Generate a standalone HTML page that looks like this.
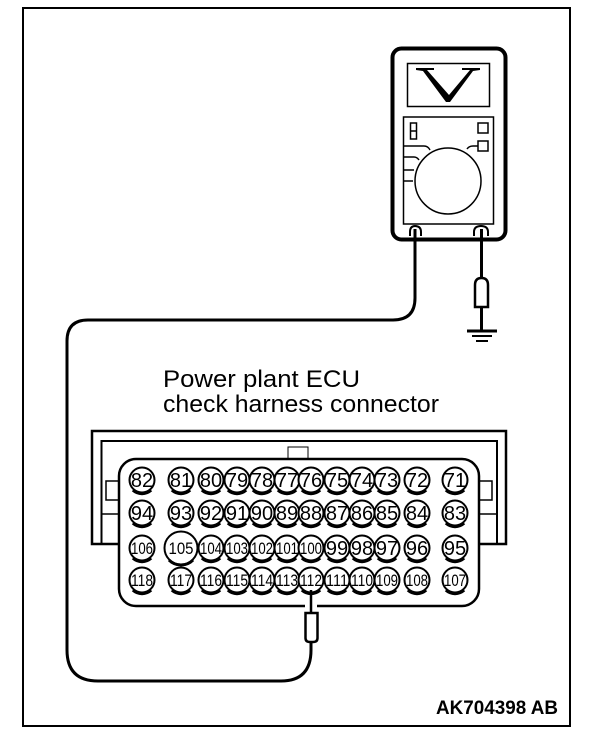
<!DOCTYPE html>
<html>
<head>
<meta charset="utf-8">
<style>
html,body{margin:0;padding:0;background:#fff}
svg{display:block}
text{font-family:"Liberation Sans",sans-serif;fill:#000}
.n{font-size:20px;text-anchor:middle}
.s{font-size:17px;text-anchor:middle}
.l{fill:none;stroke:#000}
</style>
</head>
<body>
<svg width="608" height="738" viewBox="0 0 608 738" xmlns="http://www.w3.org/2000/svg">
<defs>
<g id="p"><circle r="12.500" fill="#fff" stroke="#000" stroke-width="2"/><path d="M-9 10A13.500 13.500 0 0 0 9 10" class="l" stroke-width="3.500"/></g>
</defs>
<rect x="23" y="8" width="547" height="718" class="l" stroke-width="2"/>

<!-- meter -->
<rect x="392.500" y="48.500" width="113" height="191" rx="9" class="l" stroke-width="4"/>
<rect x="407.500" y="63.500" width="82" height="43" class="l" stroke-width="1.500"/>
<path d="M416 68H434L434 70L427 70L449 95L470 70L462 70V68H480V70L473 71L450 102H446L423 71L416 70Z" fill="#000"/>
<rect x="403.500" y="117" width="90" height="107" class="l" stroke-width="1.500"/>
<rect x="410.500" y="123" width="6" height="16" class="l" stroke-width="1.500"/>
<path d="M410 131H417" class="l" stroke-width="1.500"/>
<rect x="478" y="123" width="10" height="10" class="l" stroke-width="1.500"/>
<rect x="478" y="141" width="10" height="10" class="l" stroke-width="1.500"/>
<circle cx="448" cy="181" r="33" class="l" stroke-width="1.500"/>
<path d="M404 146H424Q428 146 430 150M404 157H414Q417 157 419 160M404 170H414M404 181H413M478 146H473Q469 146 467 149" class="l" stroke-width="1.500"/>
<path d="M410 236V232Q410 226 415 226Q421 226 421 232V236M474 236V232Q474 226 481 226Q488 226 488 232V236" class="l" stroke-width="2"/>

<!-- left wire -->
<path d="M415 229V298Q415 320 393 320H88Q67 320 67 341V650Q67 681 98 681H281Q311 681 311 650V640" class="l" stroke-width="3"/>

<!-- right wire and ground -->
<path d="M481.500 229V278M481.500 307V332" class="l" stroke-width="3"/>
<path d="M475 307V285Q475 278 481.500 278Q488 278 488 285V307Z" class="l" stroke-width="2.500"/>
<path d="M467 331H497" class="l" stroke-width="3"/>
<path d="M472 336H492M476 341H488" class="l" stroke-width="2"/>

<text x="163" y="387" font-size="24" textLength="197" lengthAdjust="spacingAndGlyphs">Power plant ECU</text>
<text x="163" y="412" font-size="24" textLength="276" lengthAdjust="spacingAndGlyphs">check harness connector</text>

<!-- connector housing -->
<path d="M118 544H92V431H506V544H479" class="l" stroke-width="2.500"/>
<path d="M101.500 544V441H497V544" class="l" stroke-width="2"/>
<rect x="288" y="447" width="20" height="12" class="l" stroke-width="1"/>
<path d="M118 481H106V500H118M101 514H118M479 481H492V500H479M479 514H497" class="l" stroke-width="1.500"/>
<rect x="119" y="459" width="360" height="147" rx="17" fill="#fff" stroke="#000" stroke-width="2.500"/>

<!-- row 1 -->
<use href="#p" x="142" y="480"/><use href="#p" x="181" y="480"/><use href="#p" x="211" y="480"/><use href="#p" x="237" y="480"/><use href="#p" x="262" y="480"/><use href="#p" x="287" y="480"/><use href="#p" x="311" y="480"/><use href="#p" x="337" y="480"/><use href="#p" x="362" y="480"/><use href="#p" x="387" y="480"/><use href="#p" x="417" y="480"/><use href="#p" x="455" y="480"/>
<text class="n" x="142" y="487">82</text><text class="n" x="181" y="487">81</text><text class="n" x="211" y="487">80</text><text class="n" x="237" y="487">79</text><text class="n" x="262" y="487">78</text><text class="n" x="287" y="487">77</text><text class="n" x="311" y="487">76</text><text class="n" x="337" y="487">75</text><text class="n" x="362" y="487">74</text><text class="n" x="387" y="487">73</text><text class="n" x="417" y="487">72</text><text class="n" x="455" y="487">71</text>
<!-- row 2 -->
<use href="#p" x="142" y="513"/><use href="#p" x="181" y="513"/><use href="#p" x="211" y="513"/><use href="#p" x="237" y="513"/><use href="#p" x="262" y="513"/><use href="#p" x="287" y="513"/><use href="#p" x="311" y="513"/><use href="#p" x="337" y="513"/><use href="#p" x="362" y="513"/><use href="#p" x="387" y="513"/><use href="#p" x="417" y="513"/><use href="#p" x="455" y="513"/>
<text class="n" x="142" y="520">94</text><text class="n" x="181" y="520">93</text><text class="n" x="211" y="520">92</text><text class="n" x="237" y="520">91</text><text class="n" x="262" y="520">90</text><text class="n" x="287" y="520">89</text><text class="n" x="311" y="520">88</text><text class="n" x="337" y="520">87</text><text class="n" x="362" y="520">86</text><text class="n" x="387" y="520">85</text><text class="n" x="417" y="520">84</text><text class="n" x="455" y="520">83</text>
<!-- row 3 -->
<use href="#p" x="142" y="548"/><circle cx="181" cy="548" r="16.500" fill="#fff" stroke="#000" stroke-width="2"/><path d="M169 560A17 17 0 0 0 193 560" class="l" stroke-width="3"/><use href="#p" x="211" y="548"/><use href="#p" x="237" y="548"/><use href="#p" x="262" y="548"/><use href="#p" x="287" y="548"/><use href="#p" x="311" y="548"/><use href="#p" x="337" y="548"/><use href="#p" x="362" y="548"/><use href="#p" x="387" y="548"/><use href="#p" x="417" y="548"/><use href="#p" x="455" y="548"/>
<text class="s" x="142" y="554" textLength="22" lengthAdjust="spacingAndGlyphs">106</text><text class="s" x="181" y="554" textLength="25" lengthAdjust="spacingAndGlyphs">105</text><text class="s" x="211" y="554" textLength="22" lengthAdjust="spacingAndGlyphs">104</text><text class="s" x="237" y="554" textLength="22" lengthAdjust="spacingAndGlyphs">103</text><text class="s" x="262" y="554" textLength="22" lengthAdjust="spacingAndGlyphs">102</text><text class="s" x="287" y="554" textLength="22" lengthAdjust="spacingAndGlyphs">101</text><text class="s" x="311" y="554" textLength="22" lengthAdjust="spacingAndGlyphs">100</text><text class="n" x="337" y="555">99</text><text class="n" x="362" y="555">98</text><text class="n" x="387" y="555">97</text><text class="n" x="417" y="555">96</text><text class="n" x="455" y="555">95</text>
<!-- row 4 -->
<use href="#p" x="142" y="580"/><use href="#p" x="181" y="580"/><use href="#p" x="211" y="580"/><use href="#p" x="237" y="580"/><use href="#p" x="262" y="580"/><use href="#p" x="287" y="580"/><use href="#p" x="311" y="580"/><use href="#p" x="337" y="580"/><use href="#p" x="362" y="580"/><use href="#p" x="387" y="580"/><use href="#p" x="417" y="580"/><use href="#p" x="455" y="580"/>
<text class="s" x="142" y="586" textLength="22" lengthAdjust="spacingAndGlyphs">118</text><text class="s" x="181" y="586" textLength="22" lengthAdjust="spacingAndGlyphs">117</text><text class="s" x="211" y="586" textLength="22" lengthAdjust="spacingAndGlyphs">116</text><text class="s" x="237" y="586" textLength="22" lengthAdjust="spacingAndGlyphs">115</text><text class="s" x="262" y="586" textLength="22" lengthAdjust="spacingAndGlyphs">114</text><text class="s" x="287" y="586" textLength="22" lengthAdjust="spacingAndGlyphs">113</text><text class="s" x="311" y="586" textLength="22" lengthAdjust="spacingAndGlyphs">112</text><text class="s" x="337" y="586" textLength="22" lengthAdjust="spacingAndGlyphs">111</text><text class="s" x="362" y="586" textLength="22" lengthAdjust="spacingAndGlyphs">110</text><text class="s" x="387" y="586" textLength="22" lengthAdjust="spacingAndGlyphs">109</text><text class="s" x="417" y="586" textLength="22" lengthAdjust="spacingAndGlyphs">108</text><text class="s" x="455" y="586" textLength="22" lengthAdjust="spacingAndGlyphs">107</text>

<!-- probe -->
<path d="M305 606H317" stroke="#fff" stroke-width="4"/>
<path d="M311 590V613" class="l" stroke-width="2.500"/>
<path d="M305.500 613H317.500V638Q317.500 642 313 642H310Q305.500 642 305.500 638Z" fill="#fff" stroke="#000" stroke-width="2.500"/>

<text x="436" y="714" font-size="19" font-weight="bold" textLength="122" lengthAdjust="spacingAndGlyphs">AK704398 AB</text>
</svg>
</body>
</html>
